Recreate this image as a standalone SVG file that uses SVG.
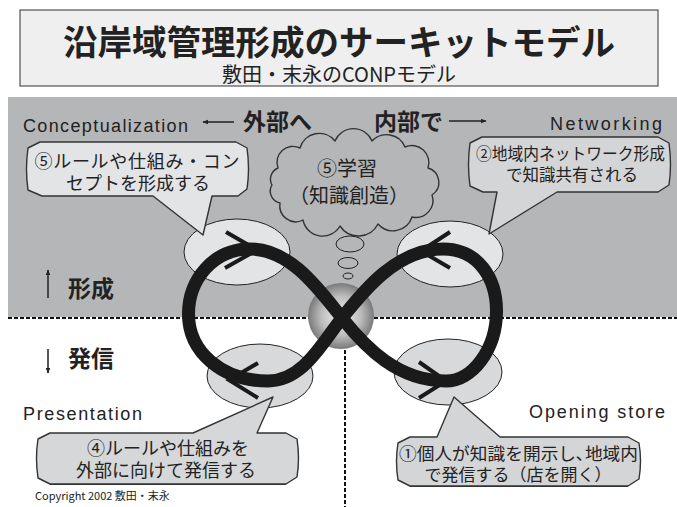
<svg xmlns="http://www.w3.org/2000/svg" width="677" height="507" viewBox="0 0 677 507">
<style>
.en{font-family:"Liberation Sans","Noto Sans",sans-serif;fill:#222}
.jp{font-family:"Noto Sans CJK JP","Noto Sans",sans-serif;fill:#222}
.b{font-weight:bold}
.bub{stroke:#333;stroke-width:1.4;stroke-linejoin:round}
.ell{stroke:#222;stroke-width:1}
.dash{stroke:#111;stroke-width:2;stroke-dasharray:4 2;fill:none}
.chev{stroke:#1a1a1a;stroke-width:4;fill:none}
.arr{stroke:#222;stroke-width:1.5;fill:none}
</style>
<defs>
<radialGradient id="sph" cx="50%" cy="50%" r="50%">
<stop offset="0" stop-color="#f2f2f2"/>
<stop offset="0.6" stop-color="#bdbdbd"/>
<stop offset="1" stop-color="#7a7a7a"/>
</radialGradient>
<marker id="ah" viewBox="0 0 10 10" refX="9" refY="5" markerWidth="6" markerHeight="6" orient="auto" markerUnits="userSpaceOnUse">
<path d="M0,1 L10,5 L0,9 Z" fill="#222"/>
</marker>
</defs>
<rect width="677" height="507" fill="#ffffff"/>

<g id="title">
<rect x="20" y="10" width="638" height="76" fill="#efefef" stroke="#333" stroke-width="1"/>
<text class="jp b" x="339" y="55" font-size="34.5" text-anchor="middle">沿岸域管理形成のサーキットモデル</text>
<text class="jp" x="339" y="82" font-size="20" text-anchor="middle">敷田・末永のCONPモデル</text>
</g>

<g id="band">
<rect x="8" y="97" width="669" height="220" fill="#b5b6b8"/>
</g>

<g id="connectors">
<line class="dash" x1="8" y1="318" x2="677" y2="318"/>
<line class="dash" x1="345" y1="350" x2="345" y2="507"/>
<line class="arr" x1="234" y1="122" x2="203" y2="122" marker-end="url(#ah)"/>
<line class="arr" x1="449" y1="121" x2="486" y2="121" marker-end="url(#ah)"/>
<line class="arr" x1="48" y1="298" x2="48" y2="270" marker-end="url(#ah)"/>
<line class="arr" x1="48" y1="349" x2="48" y2="373" marker-end="url(#ah)"/>
</g>

<g id="labels">
<text class="en" x="23" y="132" font-size="18" textLength="165" lengthAdjust="spacing">Conceptualization</text>
<text class="jp b" x="243" y="130" font-size="23">外部へ</text>
<text class="jp b" x="374" y="130" font-size="23">内部で</text>
<text class="en" x="550" y="130" font-size="18" textLength="112" lengthAdjust="spacing">Networking</text>
<text class="jp b" x="68" y="297" font-size="23">形成</text>
<text class="jp b" x="68" y="367" font-size="23">発信</text>
<text class="en" x="23" y="420" font-size="18" textLength="119" lengthAdjust="spacing">Presentation</text>
<text class="en" x="529" y="418" font-size="18" textLength="136" lengthAdjust="spacing">Opening store</text>
<text class="jp" x="35" y="500" font-size="11">Copyright 2002 敷田・末永</text>
</g>

<g id="ellipses">
<ellipse class="ell" cx="237" cy="252" rx="53" ry="33" fill="#e3e4e6"/>
<ellipse class="ell" cx="450" cy="254" rx="53" ry="33" fill="#e3e4e6"/>
<ellipse class="ell" cx="260" cy="376" rx="53" ry="32" fill="#d8d9db"/>
<ellipse class="ell" cx="448" cy="372" rx="54" ry="33" fill="#d8d9db"/>
</g>

<g id="cloud">
<path class="bub" stroke-width="1" fill="#b5b6b8" d="M278,168 A16,16 0 0 1 300,148 A20,20 0 0 1 335,141 A20,20 0 0 1 372,141 A20,20 0 0 1 405,147 A17,17 0 0 1 428,168 A15,15 0 0 1 432,195 A17,17 0 0 1 412,217 A20,20 0 0 1 378,224 A22,22 0 0 1 340,226 A20,20 0 0 1 303,220 A16,16 0 0 1 280,203 A12,12 0 0 1 272,185 A12,12 0 0 1 278,168 Z"/>
<ellipse class="ell" cx="350" cy="244" rx="14" ry="8" fill="#b5b6b8"/>
<ellipse class="ell" cx="348" cy="263" rx="10" ry="5.5" fill="#b5b6b8"/>
<ellipse class="ell" cx="348" cy="276" rx="5" ry="3" fill="#b5b6b8"/>
<text class="jp" x="347" y="176" font-size="20" text-anchor="middle">⑤学習</text>
<text class="jp" x="349" y="203" font-size="20" text-anchor="middle">（知識創造）</text>
</g>

<g id="bubble5">
<path class="bub" fill="#e3e4e6" d="M40,142 L236,142 L247,148 Q250,169 247,189 L238,196 L212,196 L203,235 L153,196 L42,196 L28,190 Q25,169 28,148 Z"/>
<text class="jp" x="137" y="168" font-size="18" text-anchor="middle" textLength="205" lengthAdjust="spacing">⑤ルールや仕組み・コン</text>
<text class="jp" x="138" y="190" font-size="18" text-anchor="middle">セプトを形成する</text>
</g>

<g id="bubble2">
<path class="bub" fill="#d4d5d7" d="M482,137 L658,137 L669,143 Q672,165 669,185 L658,192 L557,192 L489,234 L497,192 L483,192 L470,186 Q467,165 470,143 Z"/>
<text class="jp" x="476" y="160" font-size="16.5" textLength="189" lengthAdjust="spacingAndGlyphs">②地域内ネットワーク形成</text>
<text class="jp" x="572" y="181" font-size="16.5" text-anchor="middle">で知識共有される</text>
</g>

<g id="bubble4">
<path class="bub" fill="#d6d7d9" d="M50,433 L193,433 L273,397 L257,433 L286,433 L297,439 Q300,458 297,477 L286,484 L50,484 L38,478 Q35,458 38,439 Z"/>
<line x1="50" y1="484.5" x2="286" y2="484.5" stroke="#333" stroke-width="1.2"/>
<text class="jp" x="168" y="455" font-size="18" text-anchor="middle">④ルールや仕組みを</text>
<text class="jp" x="166" y="477" font-size="18" text-anchor="middle">外部に向けて発信する</text>
</g>

<g id="bubble1">
<path class="bub" fill="#d4d5d7" d="M410,437 L437,437 L454,397 L500,437 L628,437 L639,443 Q642,461 639,479 L628,486 L410,486 L398,480 Q395,461 398,443 Z"/>
<line x1="410" y1="486.5" x2="628" y2="486.5" stroke="#333" stroke-width="1.2"/>
<text class="jp" x="399" y="460" font-size="17" textLength="239" lengthAdjust="spacingAndGlyphs">①個人が知識を開示し､地域内</text>
<text class="jp" x="518" y="481" font-size="17" text-anchor="middle">で発信する（店を開く）</text>
</g>

<g id="sphere">
<circle cx="341" cy="316" r="33" fill="url(#sph)"/>
</g>

<g id="loop">
<polyline class="chev" points="226,232 257,250 225,268"/>
<polyline class="chev" points="450,232 421,251 450,268"/>
<polyline class="chev" points="258,363 229,380 258,398"/>
<polyline class="chev" points="419,362 446,381 419,398"/>
<path fill="none" stroke="#1a1a1a" stroke-width="13" d="M342,318 C318,288 290,249 250,249 C213,249 188.5,280 188.5,314 C188.5,352 222,381 268,381 C303,381 322,343 342,318 C362,293 396,249 443,249 C478,249 496.5,278 496.5,311 C496.5,350 472,381 446,381 C398,381 366,348 342,318 Z"/>
</g>
</svg>
